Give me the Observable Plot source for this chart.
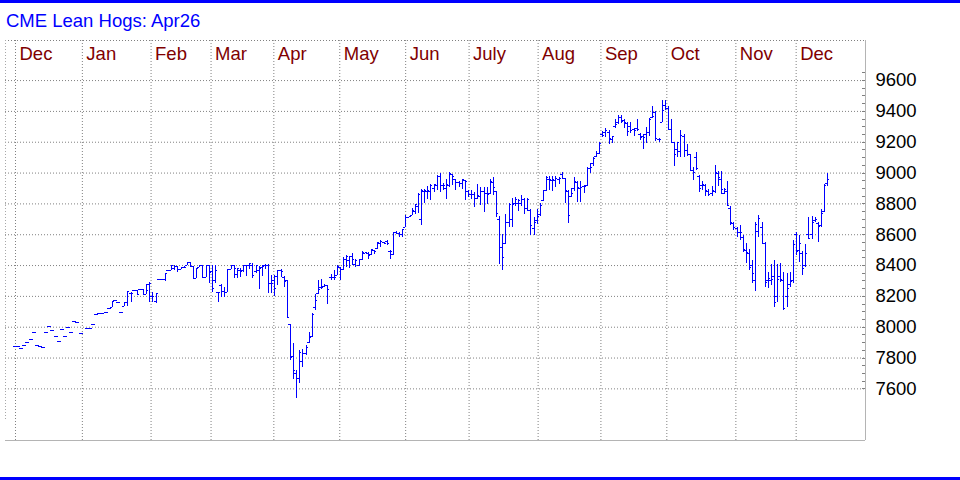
<!DOCTYPE html>
<html>
<head>
<meta charset="utf-8">
<script src="https://cdn.jsdelivr.net/npm/d3@7"></script>
<script src="https://cdn.jsdelivr.net/npm/@observablehq/plot@0.6"></script>
<style>
  html, body { margin: 0; padding: 0; background: #fff; }
  #wrap { position: relative; width: 960px; height: 480px; overflow: hidden; background: #fff;
          font-family: Arial, "Liberation Sans", sans-serif; }
  .rule { position: absolute; left: 0; width: 960px; height: 3px; background: #0000ff; }
  #title { position: absolute; left: 6px; top: 11.5px; font-size: 18.5px; line-height: 18.5px; color: #0000ff; white-space: nowrap; }
  #chart { position: absolute; left: 0; top: 0; }
</style>
</head>
<body>
<div id="wrap">
  <div id="chart"></div>
  <div class="rule" style="top:0"></div>
  <div id="title">CME Lean Hogs: Apr26</div>
  <div class="rule" style="top:477px"></div>
</div>
<script>
// Daily OHLC bars (a single number = open/high/low/close all equal; null = no trade)
const dec24 = [7873,7873,7860,7879,7898,7918,7965,7879,7873,7866,7965,8002,7978,7937,7907,7985,7937,7996,7965,8037,8030];
const jan25 = [7959,null,7991,7991,8015,8082,8091,8091,8095,8123,[8130,8167,8125,8167],8173,8158,8095,
  [8136,8158,8136,8158],[8158,8229,8136,8229],[8218,8225,8158,8218],8236,[8236,8236,8210,8210],8244,
  [8244,8244,8214,8214],[8214,8279,8214,8236]];
const feb25 = [[8279,8288,8162,8283],[8199,8223,8158,8199],[8170,8218,8151,8218],8309,8309,[8309,8348,8294,8348],8368,
  [8368,8400,8368,8400],[8380,8400,8365,8396],[8396,8396,8352,8375],[8375,8390,8372,8385],[8385,8395,8380,8390],
  [8400,8417,8400,8417],[8417,8417,8396,8396],[8396,8396,8314,8314],[8314,8378,8314,8378],[8390,8400,8390,8400],
  [8400,8400,8324,8324],[8324,8400,8324,8400],[8400,8400,8281,8357]];
const mar25 = [[8360,8400,8227,8250],[8300,8400,8285,8368],[8223,8223,8158,8223],[8270,8277,8195,8230],[8230,8260,8195,8227],
  [8227,8374,8227,8374],[8374,8400,8374,8400],[8400,8400,8314,8378],[8340,8378,8314,8378],[8370,8378,8324,8363],
  [8370,8400,8358,8400],[8400,8400,8330,8400],[8400,8411,8372,8411],[8400,8411,8314,8335],[8360,8400,8350,8400],
  [8370,8393,8242,8378],[8390,8400,8330,8393],[8400,8404,8372,8400],[8400,8404,8220,8281],[8281,8335,8220,8281]];
const apr25 = [[8300,8335,8199,8249],[8330,8368,8270,8368],[8370,8374,8324,8363],[8320,8328,8259,8298],[8300,8302,8065,8065],
  [8017,8017,7784,7801],[7810,7892,7660,7719],[7700,7719,7535,7665],[7665,7849,7633,7838],[7780,7853,7736,7827],
  [7830,7881,7816,7870],[7900,7967,7892,7930],[7940,8087,7931,8080],[8130,8212,8108,8175],[8220,8303,8212,8242],
  [8260,8307,8242,8256],[8265,8280,8260,8270],[8270,8270,8147,8242],[8320,8340,8300,8323],[8323,8366,8302,8323],
  [8334,8400,8334,8392]];
const may25 = [[8390,8390,8302,8377],[8377,8453,8366,8438],[8440,8464,8388,8460],[8430,8460,8384,8460],[8460,8475,8399,8438],
  [8410,8438,8388,8431],[8400,8438,8392,8438],[8440,8492,8431,8485],[8480,8485,8475,8485],[8480,8485,8442,8464],
  [8470,8507,8464,8503],[8500,8500,8470,8492],[8510,8550,8507,8550],[8540,8565,8514,8555],[8550,8550,8540,8545],
  [8555,8561,8529,8540],[8490,8496,8436,8492],[8470,8615,8464,8615],[8615,8620,8600,8609],[8610,8615,8583,8600],
  [8600,8637,8583,8637]];
const jun25 = [[8650,8723,8648,8712],[8712,8718,8710,8715],[8725,8767,8723,8760],[8750,8799,8734,8799],[8780,8865,8740,8862],
  [8700,8894,8658,8890],[8880,8894,8800,8884],[8880,8910,8830,8885],[8880,8924,8821,8918],[8900,8924,8875,8924],
  [8920,8985,8890,8975],[8975,9000,8875,8918],[8920,8933,8890,8918],[8900,8957,8831,8924],[8920,9004,8907,9000],
  [8990,8990,8918,8978],[8960,8960,8890,8939],[8940,8946,8907,8935],[8935,8961,8896,8957],[8950,8950,8821,8946]];
const jul25 = [[8880,8890,8842,8864],[8864,8885,8831,8864],[8860,8875,8777,8836],[8836,8924,8831,8853],[8850,8905,8790,8880],
  [8880,8907,8745,8868],[8870,8907,8799,8864],[8870,8957,8864,8946],[8940,8972,8853,8907],[8880,8883,8710,8738],
  [8700,8715,8409,8516],[8520,8603,8366,8452],[8540,8728,8538,8682],[8680,8801,8646,8797],[8700,8835,8650,8797],
  [8800,8840,8786,8829],[8800,8830,8753,8822],[8800,8857,8786,8829],[8830,8835,8728,8771],[8770,8835,8749,8829],
  [8760,8764,8592,8657],[8640,8710,8592,8682]];
const aug25 = [[8690,8764,8667,8721],[8730,8800,8720,8790],[8820,8887,8818,8887],[8890,8980,8883,8973],[8960,8975,8890,8958],
  [8950,8980,8883,8958],[8950,8980,8905,8965],[8960,8970,8925,8965],[8990,9006,8965,8965],[8965,8965,8801,8889],
  [8880,8887,8672,8725],[8850,8900,8840,8870],[8900,8973,8883,8943],[8940,8947,8807,8904],[8900,8943,8807,8904],
  [8910,8920,8868,8915],[8920,9034,8915,9029],[9030,9060,9000,9038],[9060,9100,9045,9092],[9110,9140,9100,9124],
  [9130,9200,9120,9195]];
const sep25 = [[9250,9271,9228,9245],[9260,9292,9228,9275],[9260,9275,9185,9221],[9220,9238,9195,9238],[9300,9346,9292,9314],
  [9330,9372,9314,9363],[9360,9372,9320,9335],[9340,9350,9292,9325],[9320,9325,9238,9271],[9300,9325,9254,9275],
  [9280,9292,9238,9275],[9290,9346,9271,9281],[9250,9254,9212,9232],[9240,9249,9152,9232],[9250,9297,9189,9266],
  [9260,9357,9238,9346],[9360,9432,9357,9368],[9390,9400,9206,9223],[9215,9225,9196,9217],[9330,9469,9325,9404],
  [9440,9469,9404,9421]];
const oct25 = [[9420,9432,9282,9282],[9282,9346,9196,9196],[9196,9196,9045,9120],[9150,9196,9099,9196],[9140,9275,9099,9243],
  [9240,9250,9099,9146],[9146,9185,9110,9120],[9120,9120,9013,9017],[9017,9034,8953,9002],[9100,9131,9017,9028],
  [8980,8985,8873,8901],[8920,8948,8884,8927],[8920,8925,8851,8884],[8880,8894,8851,8858],[8870,8916,8851,8888],
  [8880,9052,8870,9002],[9000,9013,8916,8974],[8960,9009,8862,8894],[8870,8901,8862,8894],[8880,8948,8780,8790],
  [8770,8780,8660,8679],[8670,8680,8626,8647]];
const nov25 = [[8640,8650,8583,8615],[8615,8660,8560,8615],[8580,8593,8486,8507],[8500,8540,8411,8486],[8480,8507,8367,8389],
  [8400,8432,8286,8346],[8300,8679,8234,8664],[8620,8722,8583,8705],[8650,8679,8540,8546],[8540,8550,8260,8292],
  [8300,8357,8249,8314],[8300,8406,8271,8307],[8330,8432,8131,8163],[8200,8406,8163,8307],[8330,8415,8292,8307],
  [8300,8357,8109,8124],[8200,8346,8131,8249],[8280,8357,8260,8299],[8300,8561,8282,8535]];
const dec25 = [[8600,8615,8464,8492],[8500,8593,8421,8546],[8480,8492,8335,8378],[8400,8535,8390,8475],[8600,8712,8572,8578],
  [8600,8716,8572,8680],[8690,8712,8680,8700],[8670,8679,8550,8654],[8660,8765,8647,8737],[8750,8927,8744,8920],
  [8930,8996,8916,8955]];

// Month labels and the trading-day positions of their gridlines
const monthLabels = ["Dec","Jan","Feb","Mar","Apr","May","Jun","July","Aug","Sep","Oct","Nov","Dec"];
const monthTicks = [0, 21.4, 43.4, 62.6, 82.7, 103.8, 124.9, 145.2, 167.3, 187.4, 208.5, 230.6, 249.9];
const yTicks = [7600,7800,8000,8200,8400,8600,8800,9000,9200,9400,9600];
const minorTicks = d3.range(7600, 9651, 50);
const xDomain = [-3.2, 272.1];
const yDomain = [7265, 9860];

const bars = [];
let idx = 0;
for (const month of [dec24, jan25, feb25, mar25, apr25, may25, jun25, jul25, aug25, sep25, oct25, nov25, dec25]) {
  for (const b of month) {
    if (b != null) {
      const [o, h, l, c] = Array.isArray(b) ? b : [b, b, b, b];
      bars.push({i: idx, open: o, high: h, low: l, close: c});
    }
    idx++;
  }
}
const months = monthLabels.map((label, k) => ({label, x: monthTicks[k]}));

const grid = {stroke: "#808080", strokeOpacity: 1, strokeDasharray: "1,2"};
const blue = "#0000ff";
const font = 'Arial, "Liberation Sans", sans-serif';

const chart = Plot.plot({
  width: 960,
  height: 480,
  marginTop: 40,
  marginBottom: 40,
  marginLeft: 5,
  marginRight: 95,
  style: {fontFamily: font, background: "transparent", color: "#000"},
  x: {type: "linear", domain: xDomain, axis: null},
  y: {type: "linear", domain: yDomain, axis: null},
  marks: [
    Plot.gridY(yTicks, grid),
    Plot.gridX(monthTicks, grid),
    Plot.ruleY([yDomain[1]], grid),
    Plot.ruleX([xDomain[0]], {stroke: "#a8a8a8", strokeDasharray: "1,2", insetBottom: 20}),
    Plot.ruleX([xDomain[1]], {stroke: "#b4b4b4", shapeRendering: "crispEdges"}),
    Plot.ruleY([yDomain[0]], {stroke: "#b4b4b4", shapeRendering: "crispEdges"}),
    Plot.ruleY(minorTicks, {stroke: "#808080", insetLeft: 857, shapeRendering: "crispEdges"}),
    Plot.axisY({anchor: "right", ticks: yTicks, tickSize: 0, tickPadding: 10, tickFormat: "d",
                fontSize: 18.5, fill: "#000"}),
    Plot.text(months, {x: "x", text: "label", frameAnchor: "top", lineAnchor: "top", textAnchor: "start",
                       dx: 4, dy: 6.5, fill: "#800000", fontSize: 18.5}),
    Plot.ruleX(bars, {x: "i", y1: "low", y2: "high", stroke: blue, strokeWidth: 1, shapeRendering: "crispEdges"}),
    Plot.ruleY(bars, {y: "open", x1: "i", x2: "i", insetLeft: -2, stroke: blue, strokeWidth: 1, shapeRendering: "crispEdges"}),
    Plot.ruleY(bars, {y: "close", x1: "i", x2: "i", insetRight: -2, stroke: blue, strokeWidth: 1, shapeRendering: "crispEdges"})
  ]
});
document.getElementById("chart").appendChild(chart);
</script>
</body>
</html>
